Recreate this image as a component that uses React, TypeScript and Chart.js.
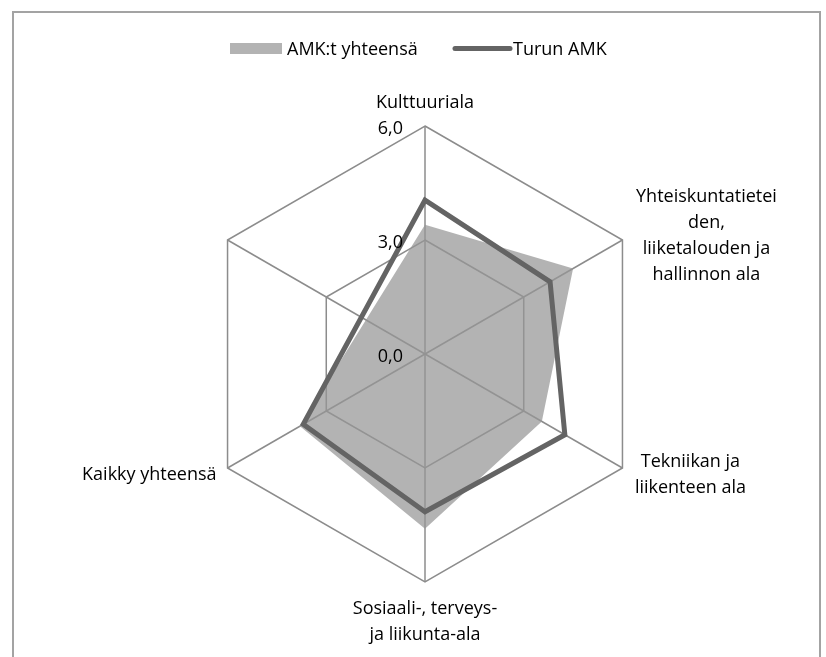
import React, { useEffect, useRef } from "react";
import { Chart, registerables } from "chart.js";

Chart.register(...registerables);

const categories: string[][] = [
  ["Kulttuuriala"],
  ["Yhteiskuntatietei", "den,", "liiketalouden ja", "hallinnon ala"],
  ["Tekniikan ja", "liikenteen ala"],
  ["Sosiaali-, terveys-", "ja liikunta-ala"],
  ["Kaikky yhteensä"],
  [""],
];
const seriesNames = ["AMK:t yhteensä", "Turun AMK"];
const amkValues: (number | null)[] = [3.4, 4.5, 3.55, 4.6, 3.8, null];
const turkuValues: (number | null)[] = [4.05, 3.8, 4.25, 4.15, 3.7, null];
const tickValues = [0, 3, 6];

const FONT = "'Open Sans', 'Noto Sans', sans-serif";
const GRID = "#8c8c8c";
const FILL = "rgba(150,150,150,0.72)";
const LINE = "#646464";

const decorPlugin = {
  id: "decor",
  beforeDraw(chart: any) {
    const ctx = chart.ctx;
    ctx.save();
    ctx.strokeStyle = "#a3a3a3";
    ctx.lineWidth = 2;
    ctx.strokeRect(13, 12, 807, 680);
    ctx.restore();
  },
  afterDraw(chart: any) {
    const ctx = chart.ctx;
    const scale = chart.scales.r;
    ctx.save();
    ctx.font = `18px ${FONT}`;
    // legend
    ctx.fillStyle = "#b3b3b3";
    ctx.fillRect(230, 43, 52, 11);
    ctx.strokeStyle = LINE;
    ctx.lineWidth = 5;
    ctx.lineCap = "round";
    ctx.beginPath();
    ctx.moveTo(455, 48.5);
    ctx.lineTo(510, 48.5);
    ctx.stroke();
    ctx.fillStyle = "#000";
    ctx.textBaseline = "alphabetic";
    ctx.textAlign = "left";
    ctx.fillText(seriesNames[0], 287, 55);
    ctx.fillText(seriesNames[1], 513, 55);

    // ticks
    ctx.textAlign = "right";
    ctx.textBaseline = "middle";
    tickValues.forEach((v) => {
      const p = scale.getPointPositionForValue(0, v);
      ctx.fillText(v.toFixed(1).replace(".", ","), p.x - 22, p.y + 3);
    });

    // point labels
    const lh = 26;
    const offsets = [
      { dx: 0, dy: -23, align: "center" },
      { dx: 84, dy: -43, align: "center" },
      { dx: 68, dy: -6, align: "center" },
      { dx: 0, dy: 27, align: "center" },
      { dx: -11, dy: 7, align: "right" },
      { dx: 0, dy: 0, align: "center" },
    ];
    categories.forEach((lines, i) => {
      const p = scale.getPointPositionForValue(i, scale.max);
      const o = offsets[i];
      ctx.textAlign = o.align;
      lines.forEach((t, j) => {
        ctx.fillText(t, p.x + o.dx, p.y + o.dy + j * lh);
      });
    });
    ctx.restore();
  },
};

export default function App() {
  const ref = useRef<HTMLCanvasElement>(null);
  useEffect(() => {
    document.body.style.margin = "0";
    const chart = new Chart(ref.current!, {
      type: "radar",
      data: {
        labels: categories.map((c) => c.join(" ")),
        datasets: [
          {
            label: seriesNames[0],
            data: amkValues,
            backgroundColor: FILL,
            borderWidth: 0,
            fill: "origin",
            pointRadius: 0,
            spanGaps: true,
            order: 1,
          },
          {
            label: seriesNames[1],
            data: turkuValues,
            borderColor: LINE,
            borderWidth: 5,
            borderJoinStyle: "miter",
            fill: false,
            pointRadius: 0,
            spanGaps: true,
            order: 0,
          },
        ] as any,
      },
      options: {
        animation: false,
        responsive: true,
        maintainAspectRatio: false,
        layout: { padding: { left: 197, top: 126, right: 173, bottom: 75 } },
        plugins: { legend: { display: false }, tooltip: { enabled: false } },
        scales: {
          r: {
            min: 0,
            max: 6,
            ticks: { stepSize: 3, display: false },
            pointLabels: { display: false },
            grid: { color: GRID, lineWidth: 1.5 },
            angleLines: { color: GRID, lineWidth: 1.5 },
          },
        },
      },
      plugins: [decorPlugin],
    });
    return () => chart.destroy();
  }, []);
  return (
    <div style={{ position: "fixed", left: 0, top: 0, width: 826, height: 657 }}>
      <canvas ref={ref} />
    </div>
  );
}
